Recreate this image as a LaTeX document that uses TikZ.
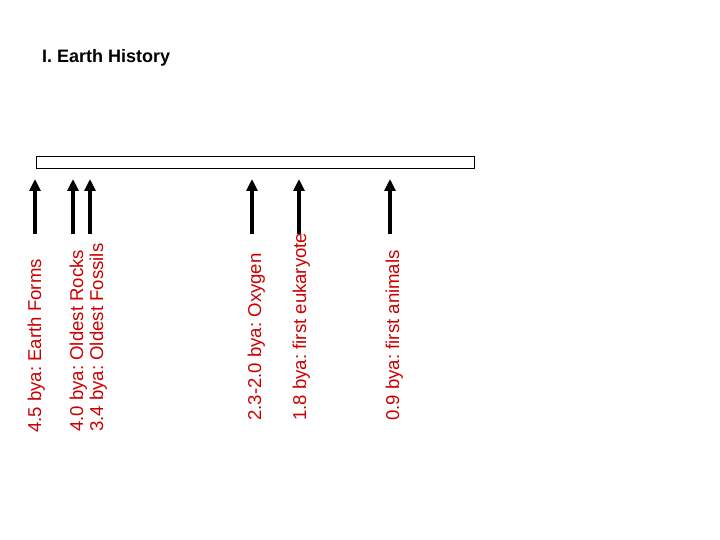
\documentclass[tikz,border=0pt]{standalone}
\usepackage{fontspec}
\setmainfont{Liberation Sans}
\usetikzlibrary{arrows.meta}
\definecolor{labred}{RGB}{204,0,0}
\frenchspacing
\tikzset{
  lab/.style={rotate=90, anchor=base west, inner sep=0pt, text=labred, font=\fontsize{18.6bp}{20bp}\selectfont},
  upar/.style={line width=4bp, -{Triangle[width=11bp,length=12bp]}},
}
\begin{document}
\begin{tikzpicture}[x=1bp,y=-1bp]
\useasboundingbox (0,0) rectangle (720,540);
\node[anchor=base west, inner sep=0pt, font=\bfseries\fontsize{18bp}{20bp}\selectfont] (title) at (42,63) {I. Earth History};
\node[draw, line width=1.3bp, minimum width=438bp, minimum height=12bp, inner sep=0pt, anchor=north west] (bar) at (36,156) {};
\foreach \n/\x in {1/35,2/73,3/90,4/252,5/299,6/390}{
  \coordinate (s\n) at (\x,234);
  \coordinate (e\n) at (\x,179);
  \draw[upar] (s\n) -- (e\n);
}
\node[lab] (l1) at (41,433) {4.5 bya: Earth Forms};
\node[lab] (l2) at (83,432) {4.0 bya: Oldest Rocks};
\node[lab] (l3) at (103,432) {3.4 bya: Oldest Fossils};
\node[lab] (l4) at (261,421) {2.3-2.0 bya: Oxygen};
\node[lab] (l5) at (306,421) {1.8 bya: first eukaryote};
\node[lab] (l6) at (399,421) {0.9 bya: first animals};
\end{tikzpicture}
\end{document}
